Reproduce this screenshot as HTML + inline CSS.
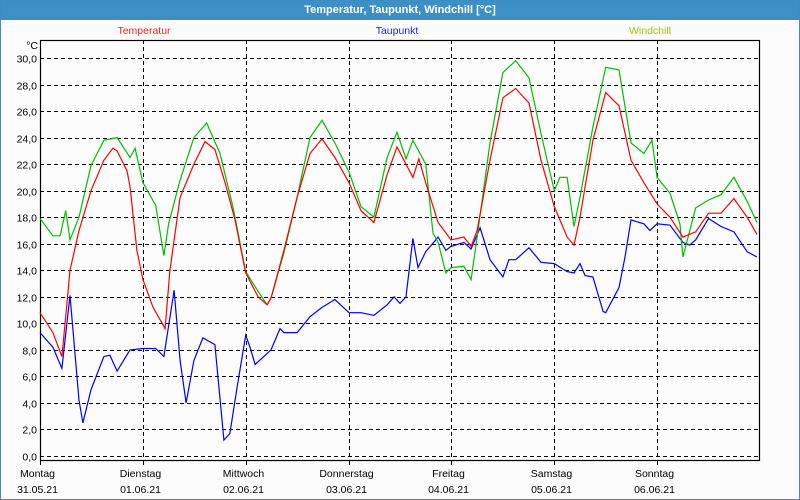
<!DOCTYPE html>
<html><head><meta charset="utf-8"><style>
html,body{margin:0;padding:0;background:#fff}
#win{position:relative;width:798px;height:498px;border:1px solid #3b8ec4;background:#fcfcfc;font-family:"Liberation Sans",sans-serif;overflow:hidden}
#title{position:absolute;left:0;top:0;width:798px;height:19px;background:#3d90c5;color:#fff;font-weight:bold;font-size:11px;text-align:center;line-height:19px}
svg{position:absolute;left:-1px;top:-1px}
</style></head><body>
<div id="win">
<div id="title">Temperatur, Taupunkt, Windchill [°C]</div>
<svg id="chart" width="800" height="500"></svg>
</div>
<script>
const dayNames=["Montag","Dienstag","Mittwoch","Donnerstag","Freitag","Samstag","Sonntag"];
const dayDates=["31.05.21","01.06.21","02.06.21","03.06.21","04.06.21","05.06.21","06.06.21"];
const yTicks=[0,2,4,6,8,10,12,14,16,18,20,22,24,26,28,30];
const tempHours=[0,3,5.1,6,7,9.1,11.9,14.9,17,18,20.3,21,22.6,24,26.4,29.2,30.3,32.7,35.9,38.5,40.8,43.2,45.5,48,50.9,53,53.9,56.9,60,63,65.8,68.8,72.1,74.9,77.9,81,83.3,87,88.4,90,92.9,95.9,98.9,100.6,102,105,108,111,114.1,116.9,120,123,124.6,126,129,132,135.1,137.9,140.9,144,147,150,153,156,158.9,161.9,165,167.3];
const tempValues=[10.8,9.3,7.5,10.5,14,17,20,22.3,23.2,23,21.5,20.3,15.5,13.3,11.2,9.6,14,19.5,22,23.7,23.1,20.6,17.8,13.8,12,11.4,11.9,15.5,19.5,22.8,23.9,22.5,20.6,18.5,17.6,21.2,23.3,21,22.4,20.6,17.6,16.3,16.5,15.8,17,22.3,27,27.7,26.6,22.3,18.8,16.5,15.9,18,23.8,27.4,26.4,22.3,20.6,19,18,16.5,16.9,18.3,18.3,19.4,18,16.7];
const windHours=[0,3,4.7,6,7,9.1,11.9,14.9,18,21,22.2,24,27,28.9,30,32.7,35.9,38.9,42,45,48,50.9,53,53.9,56.9,60,63,65.8,68.8,72.1,74.9,77.9,81,83.3,85.4,87,90,91.7,92.9,94.7,95.9,98.9,100.6,102,105,108,111,114.1,116.9,120,121.3,123,124.6,126,129,132,135.1,137.9,140.9,142.8,144,147,149.3,150,153,156,158.9,161.9,165,167.3];
const windValues=[17.9,16.6,16.6,18.5,16.3,18,21.9,23.8,24,22.5,23.2,20.6,18.9,15.1,17.5,20.8,24,25.1,22.8,18.8,13.9,12.4,11.4,11.9,15.3,19.5,24,25.3,23.6,21.4,18.8,18,22.5,24.4,22.4,23.8,22,16.8,16.1,13.8,14.2,14.3,13.3,16.5,23.6,28.9,29.8,28.5,24.3,20,21,21,17.3,19.5,24.8,29.3,29.1,23.6,22.8,23.8,21,19.8,17.5,15,18.7,19.3,19.7,21,19.2,17.6];
const dewHours=[0,3,5.1,7,9.1,10,11.9,14.9,16.3,18,21,24,27,28.9,31.3,32.7,34.1,35.9,38,40.8,42.9,44.3,45.9,48,49,50.2,53.9,56,56.9,60,63,65.8,68.8,72.1,74.9,77.9,81,82.6,84,85.4,87,88.2,90,92.9,94.7,95.9,98.9,100.6,102.7,105,108,109.4,111,114.1,116.9,120,123,124.6,126,127.2,129,131.4,132,135.1,136.5,137.9,140.9,142.3,144,147,150,151.6,153,156,158.9,161.9,165,167.3];
const dewValues=[9.3,8.2,6.6,12.1,4.2,2.5,5,7.5,7.6,6.4,8,8.1,8.1,7.5,12.5,7.2,4,7.2,8.9,8.4,1.2,1.7,5,9.1,8.2,6.9,8,9.6,9.3,9.3,10.5,11.2,11.8,10.8,10.8,10.6,11.4,12,11.5,12,16.4,14.2,15.4,16.5,15.5,15.8,16.1,15.6,17.2,14.8,13.5,14.8,14.8,15.7,14.6,14.5,13.9,13.8,14.5,13.6,13.5,10.9,10.8,12.7,15,17.8,17.5,17,17.5,17.4,16.1,15.9,16.3,17.9,17.3,16.9,15.4,15];

const svg=document.getElementById('chart');
const NS='http://www.w3.org/2000/svg';
const X0=40,X1=760,Y0=40,Y1=460;
function xs(h){return X0+h*(X1-X0)/168;}
function ys(v){return 456-v*(456-58)/30;}
function mk(tag,attrs,parent){const e=document.createElementNS(NS,tag);for(const k in attrs)e.setAttribute(k,attrs[k]);(parent||svg).appendChild(e);return e;}

yTicks.forEach(v=>{
  const y=Math.round(ys(v))+0.5;
  const g=mk('line',{x1:X0,x2:X1,y1:y,y2:y,stroke:'#000','stroke-width':1,'stroke-dasharray':'4,3'});
  
  
  const t=mk('text',{x:37,y:y+4,'text-anchor':'end','font-size':'10.5',fill:'#000'});
  t.textContent=v.toFixed(1).replace('.',',');
  
  
});
for(let d=1;d<7;d++){
  const x=Math.round(xs(d*24))+0.5;
  const g=mk('line',{x1:x,x2:x,y1:Y0,y2:Y1,stroke:'#000','stroke-width':1,'stroke-dasharray':'4,3'});
  
  
}
for(let d=0;d<7;d++){
  const x=Math.round(xs(d*24))+0.5;
  const tk=mk('line',{x1:x,x2:x,y1:Y1,y2:Y1+5,stroke:'#000','stroke-width':1});
  
  
  const t1=mk('text',{x:x-3,y:477,'text-anchor':'middle','font-size':'10.5',fill:'#000'});
  t1.textContent=dayNames[d];
  
  
  const t2=mk('text',{x:x-3,y:493,'text-anchor':'middle','font-size':'10.5',fill:'#000'});
  t2.textContent=dayDates[d];
  
  
}
const frame=mk('rect',{x:X0+0.5,y:Y0+0.5,width:X1-X0-1,height:Y1-Y0,fill:'none',stroke:'#000','stroke-width':1.2});


const unit=mk('text',{x:38,y:49,'text-anchor':'end','font-size':'10.5',fill:'#000'});
unit.textContent='°C';



function series(hours,vals,color,name){
  const pts=hours.map((h,i)=>xs(h).toFixed(1)+','+ys(vals[i]).toFixed(1)).join(' ');
  const p=mk('polyline',{points:pts,fill:'none',stroke:color,'stroke-width':1.2});
  
  
}
series(dewHours,dewValues,'#0000ff','taupunkt-line');
series(windHours,windValues,'#00c000','windchill-line');
series(tempHours,tempValues,'#ff0000','temperatur-line');

[['Temperatur','#ff2020',144,'legend-temperatur'],['Taupunkt','#2020ff',397,'legend-taupunkt'],['Windchill','#a0c800',650,'legend-windchill']].forEach(l=>{
  const t=mk('text',{x:l[2],y:34,'text-anchor':'middle','font-size':'10.5',fill:l[1]});
  t.textContent=l[0];
  
  
});
</script>
</body></html>
